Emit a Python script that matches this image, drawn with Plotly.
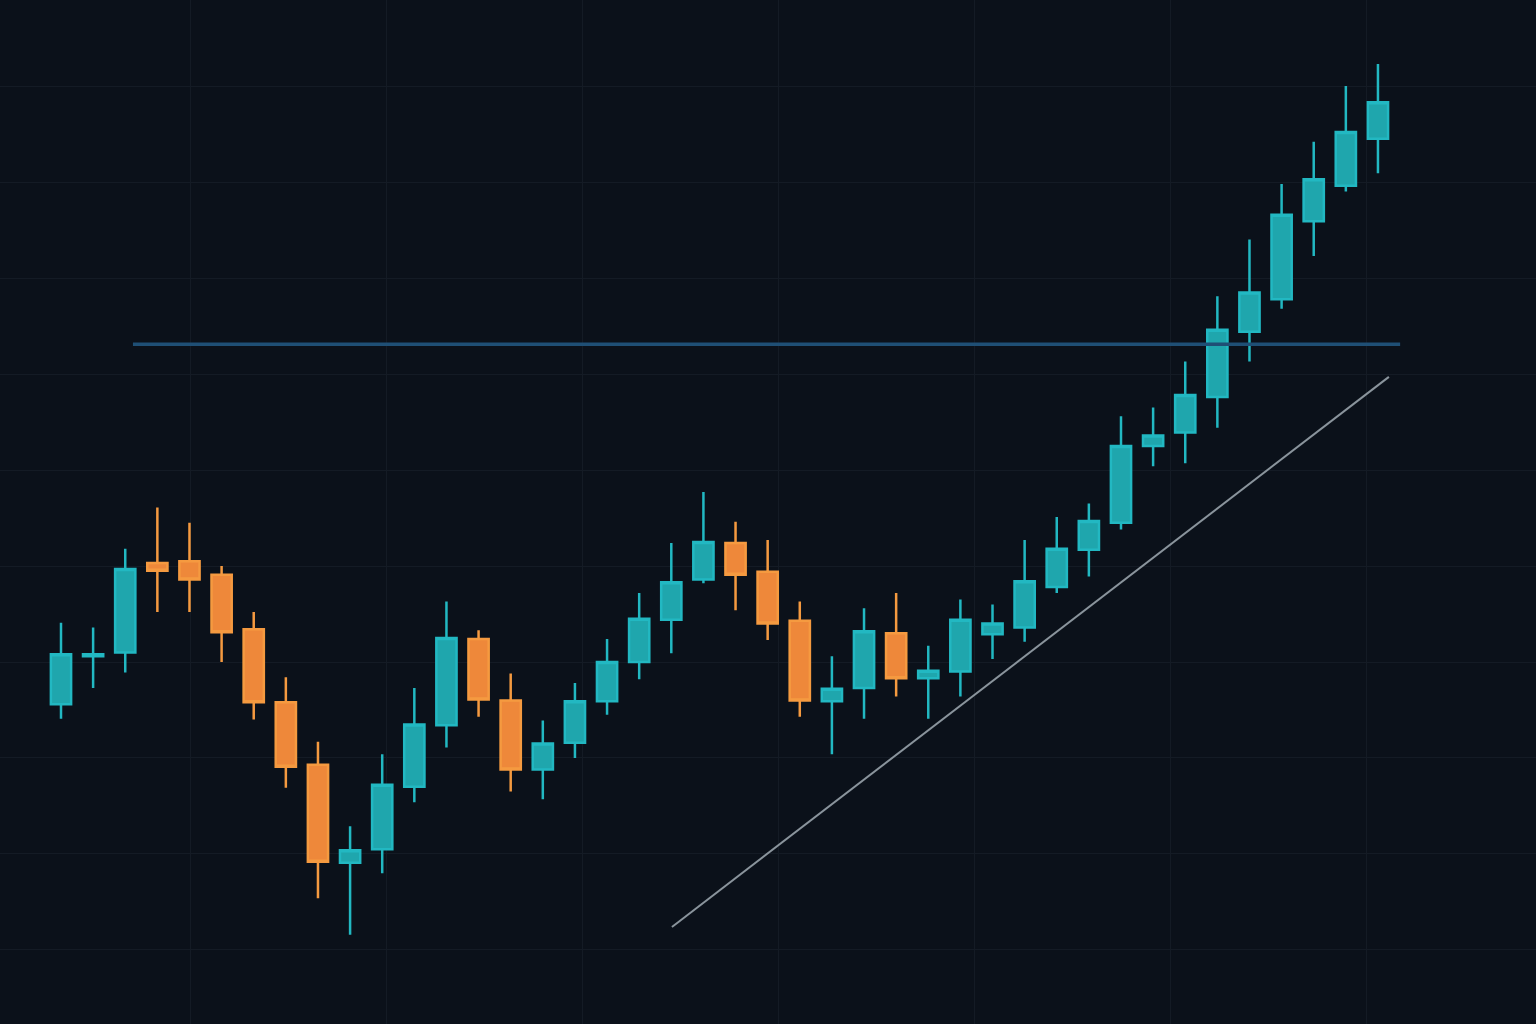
import plotly.graph_objects as go

# candle index, OHLC
idx = list(range(42))
opens = [125.6, 130.6, 131.0, 140.3, 140.5, 139.1, 133.4, 125.8, 119.3, 109.1,
         110.5, 117.0, 123.4, 132.4, 126.0, 118.8, 121.6, 125.9, 130.0, 134.4,
         138.6, 142.4, 139.4, 134.3, 125.9, 127.3, 133.0, 128.3, 129.0, 132.9,
         133.6, 137.8, 141.7, 144.5, 152.5, 153.9, 157.6, 164.4, 167.8, 175.9,
         179.6, 184.5]
highs = [134.1, 133.6, 141.8, 146.1, 144.5, 140.0, 135.2, 128.4, 121.7, 112.9,
         120.4, 127.3, 136.3, 133.3, 128.8, 123.9, 127.8, 132.4, 137.2, 142.4,
         147.7, 144.6, 142.7, 136.3, 130.6, 135.6, 137.2, 131.7, 136.5, 136.0,
         142.7, 145.1, 146.5, 155.6, 156.5, 161.3, 168.1, 174.0, 179.8, 184.2,
         190.0, 192.3]
lows = [124.1, 127.3, 128.9, 135.2, 135.2, 130.0, 124.0, 116.9, 105.4, 101.6,
        108.0, 115.4, 121.1, 124.3, 116.5, 115.7, 120.0, 124.5, 128.2, 130.9,
        138.2, 135.4, 132.3, 124.3, 120.4, 124.1, 126.4, 124.1, 126.4, 130.3,
        132.1, 137.2, 138.9, 143.8, 150.4, 150.7, 154.4, 161.3, 166.8, 172.3,
        179.0, 180.9]
closes = [130.8, 130.8, 139.7, 139.5, 138.6, 133.1, 125.8, 119.1, 109.2, 110.4,
          117.2, 123.5, 132.5, 126.1, 118.8, 121.5, 125.9, 130.0, 134.5, 138.3,
          142.5, 139.1, 134.0, 126.0, 127.2, 133.2, 128.3, 129.1, 134.4, 134.0,
          138.4, 141.8, 144.7, 152.5, 153.6, 157.8, 164.6, 168.5, 176.6, 180.3,
          185.2, 188.3]

# resistance level and rising trendline
level_x = [2.24, 41.69]
level_y = [163.1, 163.1]
trend_x = [19.02, 41.34]
trend_y = [102.4, 159.7]

BG = "#0b111a"
GRID = "#141b25"

fig = go.Figure()

fig.add_trace(go.Scatter(x=level_x, y=level_y, mode="lines",
                         line=dict(color="#1f4f75", width=3.5),
                         hoverinfo="skip", showlegend=False))
fig.add_trace(go.Scatter(x=trend_x, y=trend_y, mode="lines",
                         line=dict(color="#8a949c", width=2),
                         hoverinfo="skip", showlegend=False))

fig.add_trace(go.Candlestick(
    x=idx, open=opens, high=highs, low=lows, close=closes,
    increasing=dict(line=dict(color="#22b8c2", width=2.5), fillcolor="#1fa6ad"),
    decreasing=dict(line=dict(color="#f59a40", width=2.5), fillcolor="#ee883a"),
    whiskerwidth=0, showlegend=False,
))

fig.update_layout(
    width=1536, height=1024,
    paper_bgcolor=BG, plot_bgcolor=BG,
    margin=dict(l=0, r=0, t=0, b=0),
    boxgap=0.37, boxgroupgap=0,
    showlegend=False,
    xaxis=dict(range=[-1.899, 45.92], tick0=4.016, dtick=6.102,
               showgrid=True, gridcolor=GRID, gridwidth=1,
               showticklabels=False, zeroline=False, showline=False,
               rangeslider=dict(visible=False)),
    yaxis=dict(range=[92.29, 198.96], tick0=100, dtick=10,
               showgrid=True, gridcolor=GRID, gridwidth=1,
               showticklabels=False, zeroline=False, showline=False),
)

fig.write_html("out.html", config={"displayModeBar": False},
               post_script="document.body.style.margin='0';"
                           "document.body.style.background='%s';" % BG)
